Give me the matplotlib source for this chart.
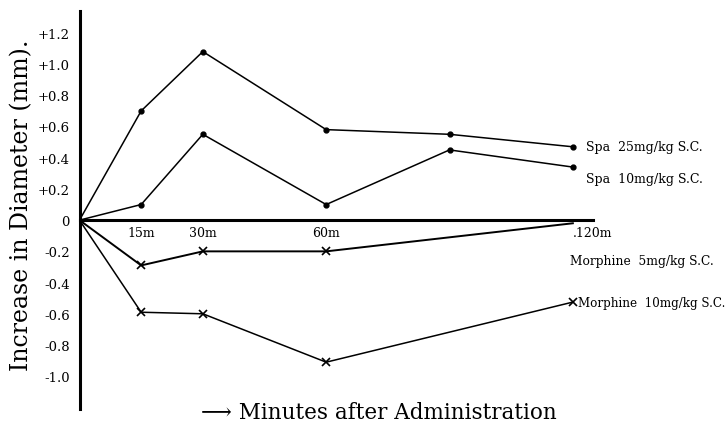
import matplotlib
matplotlib.use("Agg")
import matplotlib.pyplot as plt

plt.rcParams['font.family'] = ['DejaVu Serif', 'DejaVu Sans']

# data (minutes, increase in diameter mm)
spa25_t = [0, 15, 30, 60, 90, 120]
spa25_v = [0, 0.70, 1.08, 0.58, 0.55, 0.47]
spa10_t = [0, 15, 30, 60, 90, 120]
spa10_v = [0, 0.10, 0.55, 0.10, 0.45, 0.34]
mor5_t = [0, 15, 30, 60, 120]
mor5_v = [0, -0.29, -0.20, -0.20, -0.02]
mor10_t = [0, 15, 30, 60, 120]
mor10_v = [0, -0.59, -0.60, -0.91, -0.525]

series_labels = ["Spa  25mg/kg S.C.", "Spa  10mg/kg S.C.",
                 "Morphine  5mg/kg S.C.", "Morphine  10mg/kg S.C."]
xtick_pos = [15, 30, 60, 120]
xtick_labels = ["15m", "30m", "60m", ".120m"]
ytick_pos = [1.2, 1.0, 0.8, 0.6, 0.4, 0.2, 0, -0.2, -0.4, -0.6, -0.8, -1.0]
ytick_labels = ["+1.2", "+1.0", "+0.8", "+0.6", "+0.4", "+0.2", "0",
                "-0.2", "-0.4", "-0.6", "-0.8", "-1.0"]

fig = plt.figure(figsize=(7.28, 4.35), dpi=100)
ax = fig.add_axes([79.5/728, 25/435, 513.5/728, 398/435])

ax.plot(spa25_t, spa25_v, color='black', lw=1.1, marker='o', ms=3.5, markevery=[1, 2, 3, 4, 5])
ax.plot(spa10_t, spa10_v, color='black', lw=1.1, marker='o', ms=3.5, markevery=[1, 2, 3, 4, 5])
ax.plot(mor5_t, mor5_v, color='black', lw=1.4, marker='x', ms=6, mew=1.2, markevery=[1, 2, 3])
ax.plot(mor10_t, mor10_v, color='black', lw=1.1, marker='x', ms=6, mew=1.2, markevery=[1, 2, 3, 4])

ax.set_xlim(0, 124.9)
ax.set_ylim(-1.21, 1.34)

for s in ['top', 'right']:
    ax.spines[s].set_visible(False)
ax.spines['left'].set_position(('data', 0))
ax.spines['bottom'].set_position(('data', 0))
ax.spines['left'].set_linewidth(2.2)
ax.spines['bottom'].set_linewidth(2.2)

ax.set_yticks(ytick_pos)
ax.set_yticklabels(ytick_labels)
ax.set_xticks(xtick_pos)
ax.set_xticklabels(xtick_labels)
ax.tick_params(axis='y', length=0, pad=7, labelsize=9.5)
ax.tick_params(axis='x', length=0, pad=4, labelsize=9)
ax.get_xticklabels()[-1].set_ha('left')
ax.get_xticklabels()[-1].set_x(118.5)

# series labels
ax.text(123.3, 0.47, series_labels[0], fontsize=9, va='center')
ax.text(123.3, 0.27, series_labels[1], fontsize=9, va='center')
ax.text(119.3, -0.26, series_labels[2], fontsize=8.8, va='center')
ax.text(121.3, -0.525, series_labels[3], fontsize=8.6, va='center')

fig.text(22/728, 1 - 205/435, "Increase in Diameter (mm).", rotation=90,
         ha='center', va='center', fontsize=17)
fig.text(379/728, 1 - 413/435, "\u27f6 Minutes after Administration",
         ha='center', va='center', fontsize=15.5)

fig.savefig("out.png", dpi=100)
